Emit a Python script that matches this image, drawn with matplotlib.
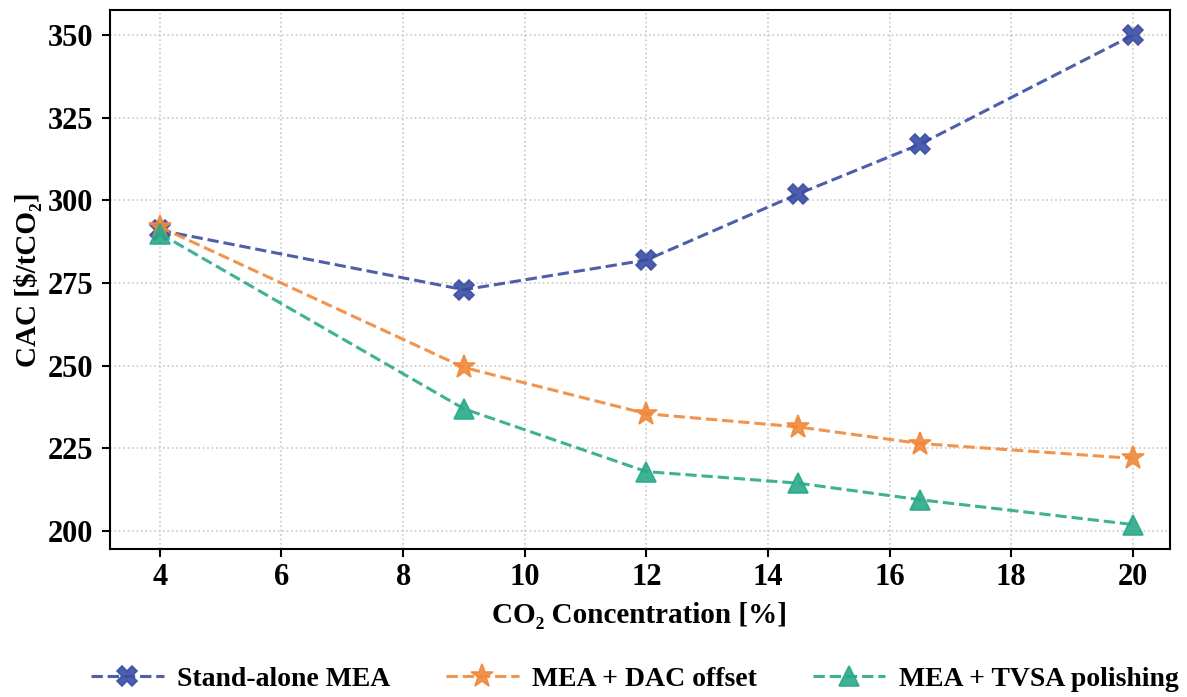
import matplotlib.pyplot as plt

# CO2 concentration [%] and capture cost [$/tCO2]
conc = [4, 9, 12, 14.5, 16.5, 20]
standalone_mea = [291, 273, 282, 302, 317, 350]
mea_dac = [292, 249.5, 235.5, 231.5, 226.5, 222]
mea_tvsa = [290, 237, 218, 214.5, 209.5, 202]

labels = ['Stand-alone MEA', 'MEA + DAC offset', 'MEA + TVSA polishing']
colors = ['#3a4ea3', '#f0883a', '#2aa98a']
markers = ['X', '*', '^']
msizes = [15, 17, 15]

plt.rcParams['font.family'] = ['Liberation Serif', 'DejaVu Serif']
plt.rcParams['font.weight'] = 'bold'

fig, ax = plt.subplots(figsize=(11.87, 6.97), dpi=100)
fig.subplots_adjust(left=110/1187, right=1170/1187, top=1-10/697, bottom=1-549/697)

for y, lab, c, m, ms in zip([standalone_mea, mea_dac, mea_tvsa], labels, colors, markers, msizes):
    ax.plot(conc, y, linestyle='--', linewidth=2.2, color=c, marker=m, markersize=ms,
            markerfacecolor=c, markeredgecolor=c, markeredgewidth=1.2, alpha=0.9, label=lab)

ax.set_xticks([4, 6, 8, 10, 12, 14, 16, 18, 20])
ax.set_yticks([200, 225, 250, 275, 300, 325, 350])
ax.set_xlim(3.18, 20.61)
ax.set_ylim(194.6, 357.6)
ax.grid(True, linestyle=':', color='#c8c8c8', linewidth=1.2)
ax.set_axisbelow(True)

ax.tick_params(axis='both', labelsize=22, width=1.5, length=6)
ax.tick_params(axis='x', pad=4)
ax.tick_params(axis='y', pad=6)
for lab in ax.get_xticklabels() + ax.get_yticklabels():
    lab.set_fontweight('bold')
for s in ax.spines.values():
    s.set_linewidth(1.5)

ax.set_xlabel('CO₂ Concentration [%]', fontsize=21, fontweight='bold', labelpad=7)
ax.set_ylabel('CAC [$/tCO₂]', fontsize=21, fontweight='bold', labelpad=4)

fig.legend(loc='lower center', bbox_to_anchor=(0.535, -0.028), ncol=3, frameon=False,
           prop={'size': 20, 'weight': 'bold'}, handlelength=2.6, handletextpad=0.5,
           columnspacing=2.0)

fig.savefig('out.png', dpi=100)
